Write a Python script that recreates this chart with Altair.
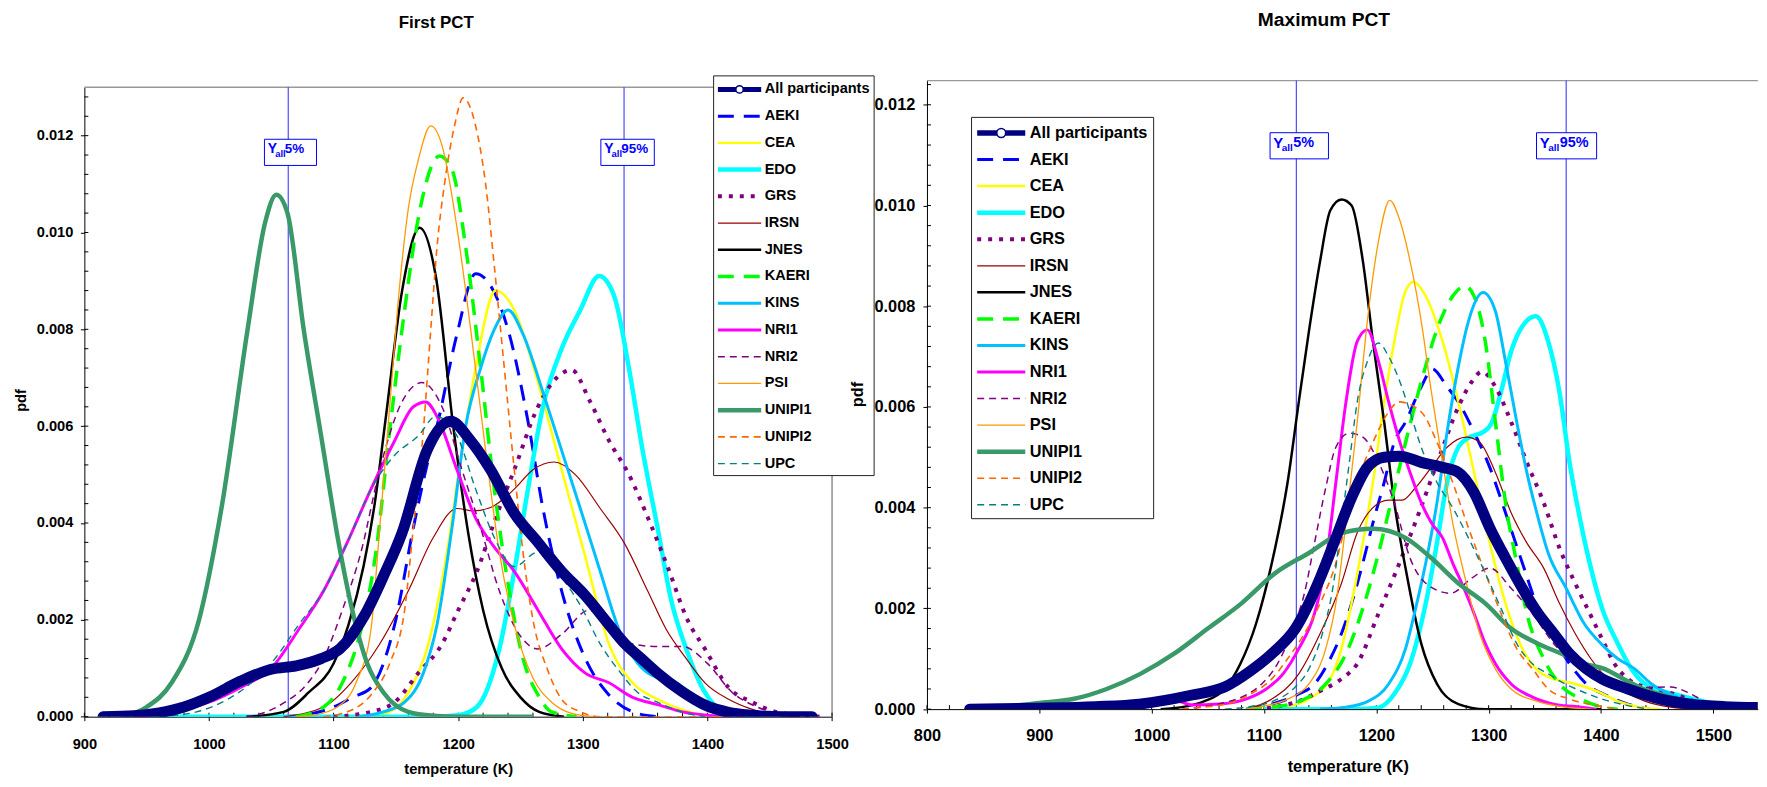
import altair as alt
import pandas as pd

FONT = "Liberation Sans"

NAMES = ["All participants", "AEKI", "CEA", "EDO", "GRS", "IRSN", "JNES", "KAERI",
         "KINS", "NRI1", "NRI2", "PSI", "UNIPI1", "UNIPI2", "UPC"]
COLORS = ["#000080", "#0000FF", "#FFFF00", "#00FFFF", "#800080", "#990000", "#000000", "#00FF00",
          "#00C0FF", "#FF00FF", "#800080", "#FF9900", "#3A9968", "#FF6600", "#008080"]
WIDTHS = [11, 3, 2.5, 4.5, 4, 1.2, 2.5, 3.5, 3, 3, 1.5, 1.3, 4.5, 1.6, 1.4]
DASHES = [None, [16, 10], None, None, [4, 7], None, None, [16, 10], None, None,
          [7, 5], None, None, [7, 5], [7, 5]]

# ---------------- First PCT (temperature K, pdf) ----------------
F_ALL = [(915, 0), (940, 0.00002), (960, 0.00008), (980, 0.0002), (1000, 0.0004), (1025, 0.00073),
         (1050, 0.00098), (1070, 0.00105), (1090, 0.0012), (1105, 0.0014), (1125, 0.0021), (1140, 0.0029),
         (1155, 0.0038), (1175, 0.0055), (1194, 0.0061), (1210, 0.0057), (1226, 0.0051), (1245, 0.0042),
         (1264, 0.0036), (1283, 0.003), (1302, 0.0025), (1321, 0.0019), (1334, 0.0015), (1347, 0.0012),
         (1360, 0.0009), (1379, 0.00053), (1398, 0.00024), (1417, 0.00009), (1436, 0.00003), (1460, 0),
         (1484, 0)]
F_AEKI = [(1060, 0), (1080, 0.00005), (1100, 0.0002), (1115, 0.0004), (1130, 0.0006), (1149, 0.0019),
          (1164, 0.0039), (1175, 0.0052), (1183, 0.006), (1199, 0.0079), (1214, 0.00915), (1226, 0.0089),
          (1241, 0.0079), (1256, 0.0061), (1268, 0.0043), (1283, 0.0026), (1302, 0.0012), (1321, 0.00045),
          (1340, 0.0001), (1360, 0)]
F_CEA = [(1100, 0), (1130, 0.00003), (1145, 0.0001), (1160, 0.0005), (1176, 0.0015), (1191, 0.0034),
         (1203, 0.0055), (1214, 0.0072), (1230, 0.0088), (1245, 0.0084), (1264, 0.0069), (1283, 0.0051),
         (1302, 0.0033), (1321, 0.0015), (1340, 0.0007), (1360, 0.00036), (1379, 0.00015), (1398, 0.00003),
         (1420, 0)]
F_EDO = [(950, 0), (1180, 0), (1200, 0.00003), (1215, 0.0002), (1233, 0.0014), (1245, 0.003),
         (1256, 0.0047), (1268, 0.0064), (1283, 0.0076), (1298, 0.0084), (1313, 0.0091), (1325, 0.0087),
         (1337, 0.0072), (1348, 0.0055), (1360, 0.0039), (1371, 0.0024), (1383, 0.0014), (1398, 0.0005),
         (1413, 0.0001), (1430, 0)]
F_GRS = [(1100, 0), (1130, 0.0001), (1149, 0.0003), (1168, 0.0009), (1187, 0.0015), (1200, 0.0022),
         (1215, 0.003), (1230, 0.0041), (1245, 0.0051), (1264, 0.0064), (1279, 0.007), (1291, 0.00716),
         (1306, 0.0065), (1321, 0.0057), (1337, 0.005), (1354, 0.004), (1368, 0.0031), (1384, 0.002),
         (1398, 0.0014), (1417, 0.0006), (1436, 0.0003), (1455, 0.0001), (1475, 0.00003), (1490, 0)]
F_IRSN = [(1060, 0), (1092, 0.0002), (1114, 0.0007), (1137, 0.0015), (1160, 0.0026), (1180, 0.0037),
          (1199, 0.0043), (1212, 0.00425), (1226, 0.00432), (1245, 0.0047), (1260, 0.0051), (1277, 0.00526),
          (1294, 0.005), (1314, 0.0043), (1333, 0.0036), (1352, 0.0026), (1367, 0.0018), (1383, 0.0012),
          (1398, 0.0007), (1417, 0.00036), (1436, 0.00015), (1455, 0.00003), (1470, 0)]
F_JNES = [(1030, 0), (1060, 0.0001), (1080, 0.0005), (1100, 0.0011), (1112, 0.0019), (1124, 0.0031),
          (1133, 0.0044), (1142, 0.0062), (1155, 0.0088), (1169, 0.0101), (1182, 0.0091), (1196, 0.006),
          (1208, 0.0038), (1220, 0.0022), (1235, 0.001), (1250, 0.0004), (1265, 0.0001), (1285, 0)]
F_KAERI = [(1070, 0), (1092, 0.0002), (1107, 0.0007), (1122, 0.0018), (1134, 0.0034), (1145, 0.0059),
           (1157, 0.0084), (1168, 0.0103), (1185, 0.01158), (1195, 0.0113), (1206, 0.0097), (1218, 0.0072),
           (1229, 0.0047), (1241, 0.0026), (1252, 0.0012), (1264, 0.00045), (1275, 0.0001), (1295, 0)]
F_KINS = [(1120, 0), (1140, 0.0001), (1157, 0.0003), (1172, 0.0009), (1183, 0.0019), (1195, 0.0039),
          (1206, 0.006), (1218, 0.0072), (1229, 0.008), (1240, 0.0084), (1252, 0.0079), (1268, 0.0067),
          (1283, 0.0055), (1298, 0.0043), (1314, 0.003), (1329, 0.0018), (1344, 0.0011), (1360, 0.0008),
          (1375, 0.0007), (1390, 0.0004), (1405, 0.00015), (1425, 0.00003), (1440, 0)]
F_NRI1 = [(940, 0), (970, 0.0001), (1000, 0.0003), (1025, 0.0006), (1050, 0.001), (1072, 0.0018),
          (1092, 0.0026), (1111, 0.0036), (1130, 0.0047), (1149, 0.0057), (1164, 0.0064), (1174, 0.0065),
          (1183, 0.0062), (1199, 0.0051), (1214, 0.0041), (1229, 0.0035), (1245, 0.003), (1264, 0.0022),
          (1283, 0.0014), (1302, 0.0009), (1321, 0.0007), (1340, 0.0004), (1360, 0.00025), (1380, 0.0001),
          (1400, 0.00003), (1420, 0)]
F_NRI2 = [(1030, 0), (1046, 0.0001), (1061, 0.0003), (1076, 0.0006), (1092, 0.0012), (1107, 0.0022),
          (1122, 0.0034), (1137, 0.0051), (1153, 0.0064), (1171, 0.0069), (1187, 0.0064), (1203, 0.0051),
          (1218, 0.0039), (1233, 0.0026), (1249, 0.0017), (1264, 0.0014), (1283, 0.0017), (1305, 0.0022),
          (1322, 0.0019), (1340, 0.0015), (1360, 0.00145), (1380, 0.00145), (1400, 0.0011), (1420, 0.0005),
          (1440, 0.0002), (1460, 0.00005), (1480, 0)]
F_PSI = [(1070, 0), (1084, 0.00003), (1103, 0.0002), (1118, 0.0007), (1130, 0.0018), (1137, 0.0039),
         (1145, 0.0064), (1153, 0.0089), (1160, 0.0105), (1168, 0.0115), (1178, 0.0122), (1187, 0.0118),
         (1199, 0.0101), (1210, 0.008), (1222, 0.0055), (1233, 0.0034), (1245, 0.0019), (1260, 0.0008),
         (1275, 0.0003), (1291, 0.00007), (1310, 0)]
F_UNIPI1 = [(930, 0), (950, 0.0002), (970, 0.0007), (992, 0.002), (1010, 0.0043), (1031, 0.008),
            (1045, 0.0102), (1054, 0.01078), (1063, 0.0104), (1076, 0.008), (1090, 0.0058), (1104, 0.0036),
            (1115, 0.0022), (1127, 0.0011), (1140, 0.0005), (1160, 0.0001), (1180, 0.00002), (1200, 0),
            (1260, 0)]
F_UNIPI2 = [(1092, 0), (1111, 0.0001), (1130, 0.00045), (1145, 0.0011), (1157, 0.0022), (1164, 0.0039),
            (1172, 0.0059), (1178, 0.008), (1183, 0.0097), (1189, 0.011), (1197, 0.0122), (1204, 0.01278),
            (1214, 0.0122), (1222, 0.011), (1229, 0.0093), (1237, 0.0072), (1245, 0.0051), (1252, 0.0034),
            (1260, 0.002), (1272, 0.00095), (1283, 0.00036), (1298, 0.0001), (1314, 0), (1430, 0)]
F_UPC = [(960, 0), (990, 0.0001), (1015, 0.00036), (1034, 0.0007), (1053, 0.0012), (1072, 0.0019),
         (1092, 0.0026), (1111, 0.0036), (1130, 0.0047), (1149, 0.0054), (1168, 0.0058), (1182, 0.0062),
         (1199, 0.0058), (1214, 0.0047), (1229, 0.0037), (1245, 0.0031), (1264, 0.0034), (1279, 0.003),
         (1298, 0.0023), (1314, 0.0015), (1329, 0.00095), (1344, 0.0005), (1360, 0.0003), (1379, 0.0001),
         (1398, 0)]

# ---------------- Maximum PCT (temperature K, pdf) ----------------
M_ALL = [(838, 0), (900, 0.00002), (950, 0.00005), (989, 0.0001), (1036, 0.00028), (1065, 0.00044),
         (1088, 0.00076), (1107, 0.0011), (1128, 0.0016), (1150, 0.0026), (1164, 0.0034), (1178, 0.0042),
         (1192, 0.0048), (1207, 0.005), (1221, 0.00502), (1240, 0.0049), (1259, 0.0048), (1273, 0.0047),
         (1287, 0.0043), (1301, 0.0036), (1315, 0.003), (1330, 0.0024), (1344, 0.0019), (1358, 0.0015),
         (1372, 0.0011), (1387, 0.0008), (1401, 0.0006), (1424, 0.0004), (1453, 0.0002), (1480, 0.0001),
         (1510, 0.00005), (1542, 0.00003)]
M_AEKI = [(1084, 0), (1107, 0.0001), (1131, 0.0003), (1145, 0.0005), (1159, 0.001), (1169, 0.0015),
          (1178, 0.0021), (1188, 0.0029), (1197, 0.0037), (1207, 0.0045), (1216, 0.0053), (1226, 0.0057),
          (1240, 0.0064), (1250, 0.00675), (1263, 0.0064), (1273, 0.0061), (1287, 0.0055), (1301, 0.0048),
          (1315, 0.0039), (1330, 0.0029), (1344, 0.002), (1358, 0.0014), (1372, 0.0009), (1387, 0.0005),
          (1405, 0.00027), (1424, 0.0001), (1443, 0)]
M_CEA = [(1102, 0), (1121, 0.00005), (1140, 0.0002), (1159, 0.0006), (1169, 0.0012), (1178, 0.0021),
         (1188, 0.0033), (1197, 0.0045), (1207, 0.0061), (1216, 0.0073), (1226, 0.0083), (1233, 0.00848),
         (1244, 0.0082), (1259, 0.0073), (1273, 0.0061), (1287, 0.0047), (1301, 0.0033), (1315, 0.0021),
         (1330, 0.0012), (1344, 0.00076), (1358, 0.0006), (1377, 0.0005), (1396, 0.00036), (1415, 0.00016),
         (1434, 0.00004), (1453, 0)]
M_EDO = [(1100, 0), (1180, 0), (1202, 0.00003), (1216, 0.0003), (1230, 0.0009), (1244, 0.0021),
         (1254, 0.0033), (1263, 0.0045), (1273, 0.0052), (1283, 0.0054), (1295, 0.0055), (1303, 0.0057),
         (1311, 0.0063), (1320, 0.0071), (1330, 0.0076), (1342, 0.0078), (1353, 0.0073), (1363, 0.0063),
         (1372, 0.0049), (1382, 0.0037), (1391, 0.0028), (1401, 0.002), (1415, 0.0013), (1427, 0.0008),
         (1441, 0.00047), (1468, 0.00028), (1498, 0.00012), (1527, 0.00002)]
M_GRS = [(1093, 0), (1112, 0.00005), (1131, 0.00016), (1150, 0.00036), (1169, 0.0006), (1183, 0.0009),
         (1202, 0.0019), (1217, 0.0027), (1238, 0.0039), (1256, 0.005), (1273, 0.006), (1285, 0.0065),
         (1294, 0.0067), (1306, 0.0064), (1320, 0.0057), (1334, 0.0049), (1349, 0.0041), (1363, 0.0032),
         (1377, 0.0025), (1390, 0.0019), (1403, 0.0013), (1412, 0.0009), (1424, 0.0006), (1445, 0.0004),
         (1465, 0.0003), (1490, 0.0001), (1510, 0)]
M_IRSN = [(1084, 0), (1107, 0.0002), (1131, 0.0007), (1150, 0.0015), (1169, 0.0025), (1183, 0.0035),
          (1197, 0.004), (1211, 0.00415), (1223, 0.00415), (1235, 0.0044), (1249, 0.0048), (1263, 0.0052),
          (1280, 0.0054), (1292, 0.0053), (1306, 0.0047), (1320, 0.0039), (1334, 0.0033), (1349, 0.0028),
          (1363, 0.0021), (1377, 0.0015), (1391, 0.001), (1406, 0.0006), (1420, 0.00036), (1439, 0.00016),
          (1462, 0.00004), (1481, 0)]
M_JNES = [(1008, 0), (1027, 0.00004), (1046, 0.00015), (1065, 0.0004), (1079, 0.0009), (1093, 0.0017),
          (1107, 0.0029), (1121, 0.0045), (1131, 0.0061), (1140, 0.0075), (1150, 0.0089), (1159, 0.0099),
          (1169, 0.01012), (1178, 0.01), (1188, 0.0089), (1197, 0.0073), (1207, 0.0057), (1216, 0.0041),
          (1226, 0.0028), (1240, 0.0013), (1254, 0.0005), (1273, 0.0001), (1297, 0), (1400, 0)]
M_KAERI = [(1084, 0), (1107, 0.00004), (1131, 0.00015), (1155, 0.0005), (1173, 0.0011), (1188, 0.002),
           (1202, 0.0031), (1213, 0.0041), (1225, 0.0052), (1240, 0.0065), (1255, 0.0076), (1268, 0.0082),
           (1279, 0.0084), (1287, 0.0082), (1297, 0.0073), (1306, 0.0057), (1315, 0.0041), (1325, 0.0029),
           (1334, 0.0019), (1349, 0.001), (1363, 0.0005), (1382, 0.0002), (1401, 0.00004), (1415, 0)]
M_KINS = [(1150, 0), (1173, 0.00004), (1192, 0.00015), (1211, 0.0005), (1226, 0.0012), (1235, 0.002),
          (1244, 0.0029), (1254, 0.0041), (1263, 0.0055), (1273, 0.0068), (1282, 0.0077), (1295, 0.00827),
          (1306, 0.0079), (1315, 0.0069), (1325, 0.0057), (1334, 0.0047), (1344, 0.0038), (1353, 0.0031),
          (1369, 0.0024), (1385, 0.0017), (1400, 0.0013), (1415, 0.001), (1430, 0.0008), (1445, 0.0005),
          (1462, 0.0003), (1481, 0.00013), (1500, 0.00004), (1520, 0)]
M_NRI1 = [(965, 0), (979, 0.00004), (998, 0.00015), (1010, 0.0002), (1025, 0.00015), (1036, 0.00008),
          (1060, 0.0001), (1084, 0.0002), (1102, 0.0004), (1117, 0.0007), (1131, 0.0012), (1145, 0.0019),
          (1155, 0.0029), (1164, 0.0045), (1173, 0.0061), (1183, 0.0073), (1192, 0.00753), (1202, 0.0069),
          (1211, 0.0061), (1221, 0.0053), (1230, 0.0047), (1240, 0.0041), (1249, 0.0037), (1259, 0.0034),
          (1268, 0.0029), (1278, 0.0024), (1287, 0.0019), (1297, 0.0013), (1306, 0.0009), (1320, 0.0005),
          (1339, 0.00024), (1358, 0.0001), (1377, 0.00005), (1396, 0)]
M_NRI2 = [(1027, 0), (1046, 0.00005), (1065, 0.00013), (1084, 0.00028), (1098, 0.0005), (1112, 0.0009),
          (1126, 0.0016), (1136, 0.0023), (1145, 0.0033), (1155, 0.0044), (1164, 0.0052), (1176, 0.00548),
          (1188, 0.0054), (1202, 0.0049), (1216, 0.0041), (1230, 0.003), (1244, 0.0025), (1266, 0.0023),
          (1285, 0.0026), (1301, 0.0028), (1320, 0.0024), (1339, 0.0019), (1358, 0.0013), (1377, 0.0009),
          (1396, 0.0006), (1415, 0.0005), (1440, 0.00043), (1462, 0.00044), (1480, 0.0003), (1495, 0.00012),
          (1510, 0)]
M_PSI = [(1084, 0), (1102, 0.00007), (1121, 0.0002), (1140, 0.0005), (1155, 0.0012), (1164, 0.0021),
         (1173, 0.0037), (1183, 0.0057), (1192, 0.0077), (1202, 0.0093), (1212, 0.0101), (1221, 0.0097),
         (1230, 0.0089), (1240, 0.0077), (1249, 0.0063), (1259, 0.0049), (1268, 0.0037), (1278, 0.0027),
         (1292, 0.0015), (1306, 0.0008), (1320, 0.0004), (1344, 0.00015), (1368, 0.00004), (1391, 0)]
M_UNIPI1 = [(840, 0), (870, 0.00005), (900, 0.00012), (930, 0.0002), (960, 0.0004), (990, 0.0007),
            (1020, 0.0011), (1050, 0.0016), (1080, 0.0021), (1110, 0.0027), (1140, 0.0031), (1170, 0.0035),
            (1197, 0.00358), (1226, 0.0034), (1249, 0.003), (1273, 0.0025), (1297, 0.0021), (1320, 0.0016),
            (1344, 0.0013), (1365, 0.0011), (1385, 0.0009), (1403, 0.0008), (1420, 0.0006), (1438, 0.0004),
            (1460, 0.00025), (1480, 0.00012), (1500, 0.00005), (1520, 0)]
M_UNIPI2 = [(1027, 0), (1046, 0.00004), (1070, 0.00012), (1088, 0.0003), (1107, 0.0006), (1121, 0.001),
            (1136, 0.0015), (1150, 0.0021), (1164, 0.0029), (1173, 0.0037), (1183, 0.0045), (1197, 0.0053),
            (1211, 0.0059), (1220, 0.0061), (1240, 0.0059), (1254, 0.0053), (1268, 0.0045), (1282, 0.0036),
            (1297, 0.0027), (1311, 0.0019), (1325, 0.0012), (1339, 0.0008), (1353, 0.0004), (1372, 0.0002),
            (1396, 0.00007), (1415, 0)]
M_UPC = [(1065, 0), (1084, 0.00004), (1107, 0.00015), (1126, 0.0004), (1140, 0.0008), (1152, 0.0015),
         (1162, 0.0025), (1169, 0.0037), (1176, 0.0049), (1183, 0.0061), (1192, 0.0069), (1202, 0.00727),
         (1211, 0.007), (1221, 0.0065), (1230, 0.0059), (1240, 0.0052), (1254, 0.0045), (1268, 0.004),
         (1282, 0.0034), (1297, 0.0027), (1311, 0.002), (1325, 0.0013), (1339, 0.0009), (1353, 0.0007),
         (1368, 0.0005), (1382, 0.00036), (1401, 0.0002), (1424, 0.00007), (1443, 0)]

F_SERIES = [F_ALL, F_AEKI, F_CEA, F_EDO, F_GRS, F_IRSN, F_JNES, F_KAERI, F_KINS, F_NRI1, F_NRI2,
            F_PSI, F_UNIPI1, F_UNIPI2, F_UPC]
M_SERIES = [M_ALL, M_AEKI, M_CEA, M_EDO, M_GRS, M_IRSN, M_JNES, M_KAERI, M_KINS, M_NRI1, M_NRI2,
            M_PSI, M_UNIPI1, M_UNIPI2, M_UPC]

# 5% / 95% quantiles of all participants
YALL_F = [1063.6, 1333.1]
YALL_M = [1128.8, 1369.0]
YALL_LABELS = ["5%", "95%"]

X_TICKS_F = [900, 1000, 1100, 1200, 1300, 1400, 1500]
X_TICKS_M = [800, 900, 1000, 1100, 1200, 1300, 1400, 1500]
Y_TICKS = [0.0, 0.002, 0.004, 0.006, 0.008, 0.010, 0.012]
MINOR_Y = [round(k * 0.0004, 4) for k in range(0, 33)]
MINOR_X_F = list(range(900, 1501, 20))
MINOR_X_M = list(range(800, 1540, 20))

DUMMY = pd.DataFrame({"d": [0]})


def fixed():
    return alt.Chart(DUMMY)


def curve_layer(pts, i, X, Y):
    df = pd.DataFrame(pts, columns=["T", "pdf"])
    kw = dict(color=COLORS[i], strokeWidth=WIDTHS[i], interpolate="monotone", clip=True)
    if DASHES[i] is not None:
        kw["strokeDash"] = DASHES[i]
    if i == 0:
        kw.update(strokeCap="round", strokeJoin="round")
    return alt.Chart(df).mark_line(**kw).encode(x=X("T"), y=Y("pdf"))


def legend_layers(box, y0, step, x1, x2, xt, fsz, navy_w, msize):
    out = [fixed().mark_rect(fill="white", stroke="#222222", strokeWidth=1).encode(
        x=alt.value(box[0]), x2=alt.value(box[1]), y=alt.value(box[2]), y2=alt.value(box[3]))]
    for i, name in enumerate(NAMES):
        yy = y0 + i * step
        kw = dict(color=COLORS[i], strokeWidth=(navy_w if i == 0 else WIDTHS[i]))
        if DASHES[i] is not None:
            kw["strokeDash"] = DASHES[i]
        out.append(fixed().mark_rule(**kw).encode(x=alt.value(x1), x2=alt.value(x2), y=alt.value(yy)))
        out.append(fixed().mark_text(align="left", baseline="middle", font=FONT, fontWeight="bold",
                                     fontSize=fsz, color="black").encode(
            x=alt.value(xt), y=alt.value(yy), text=alt.value(name)))
    out.append(fixed().mark_point(shape="circle", filled=True, fill="white", stroke="#000080",
                                  strokeWidth=1.5, size=msize, opacity=1).encode(
        x=alt.value((x1 + x2) / 2), y=alt.value(y0)))
    return out


def yall_layers(vals, offs, X, box_y, ty, sy, sizes, toffs):
    out = []
    for v, lab, (lo, hi) in zip(vals, YALL_LABELS, offs):
        d = pd.DataFrame({"v": [v]})
        out.append(alt.Chart(d).mark_rect(fill="white", stroke="#0000FF", strokeWidth=1,
                                          xOffset=lo, x2Offset=hi).encode(
            x=X("v"), x2=alt.X2("v"), y=alt.value(box_y[0]), y2=alt.value(box_y[1])))
        parts = [("Y", lo + toffs[0], ty, sizes[0]), ("all", lo + toffs[1], sy, sizes[1]),
                 (lab, lo + toffs[2], ty, sizes[2])]
        for txt, dx, yy, fsz in parts:
            out.append(alt.Chart(d).mark_text(align="left", baseline="middle", dx=dx, font=FONT,
                                              fontWeight="bold", fontSize=fsz, color="#0000FF").encode(
                x=X("v"), y=alt.value(yy), text=alt.value(txt)))
    return out


def build_panel(c):
    W, H, top = c["W"], c["H"], c["top"]
    xs = alt.Scale(domain=c["xdom"], nice=False, zero=False)
    ys = alt.Scale(domain=c["ydom"], range=c["yrange"], nice=False, zero=False)
    fs = c["fs"]
    xaxis = alt.Axis(values=c["xticks"], format="d", grid=False, domainColor="black", domainWidth=1,
                     tickColor="black", tickSize=4, tickWidth=1, labelFont=FONT, labelFontSize=fs,
                     labelFontWeight="bold", labelColor="black", labelPadding=c["xlp"], labelFlush=False,
                     labelOverlap=False, title="temperature (K)", titleFont=FONT, titleFontSize=fs,
                     titleFontWeight="bold", titleColor="black", titleX=c["xtx"], titleY=c["xty"],
                     titleBaseline="middle", titleAlign="center")
    yaxis = alt.Axis(values=Y_TICKS, format=".3f", grid=False, domainColor="black", domainWidth=1,
                     tickColor="black", tickSize=4, tickWidth=1, labelFont=FONT, labelFontSize=fs,
                     labelFontWeight="bold", labelColor="black", labelPadding=c["ylp"], labelFlush=False,
                     labelOverlap=False, title="pdf", titleFont=FONT, titleFontSize=fs,
                     titleFontWeight="bold", titleColor="black", titleX=c["ytx"], titleY=c["yty"],
                     titleBaseline="middle", titleAlign="center", titleAngle=270)

    def X(f):
        return alt.X(f + ":Q", scale=xs, axis=xaxis)

    def Y(f):
        return alt.Y(f + ":Q", scale=ys, axis=yaxis)

    layers = []
    # frame
    layers.append(fixed().mark_rule(color="#999999", strokeWidth=1.3).encode(
        x=alt.value(0), x2=alt.value(W), y=alt.value(top)))
    if c["right_border"]:
        layers.append(fixed().mark_rule(color="#555555", strokeWidth=1).encode(
            x=alt.value(W), y=alt.value(top), y2=alt.value(H)))
    # minor ticks (inside)
    my = pd.DataFrame({"v": [v for v in MINOR_Y if v <= c["ydom"][1]]})
    layers.append(alt.Chart(my).mark_rule(color="black", strokeWidth=1).encode(
        y=Y("v"), x=alt.value(0), x2=alt.value(4)))
    mx = pd.DataFrame({"v": c["minor_x"]})
    layers.append(alt.Chart(mx).mark_rule(color="black", strokeWidth=1).encode(
        x=X("v"), y=alt.value(H), y2=alt.value(H - 4)))
    # quantile lines
    yl = pd.DataFrame({"v": c["yall"]})
    layers.append(alt.Chart(yl).mark_rule(color="#3B3BFF", strokeWidth=1.1).encode(
        x=X("v"), y=alt.value(top), y2=alt.value(H)))
    # curves (all participants on top)
    for i in range(1, len(NAMES)):
        layers.append(curve_layer(c["series"][i], i, X, Y))
    layers.append(curve_layer(c["series"][0], 0, X, Y))
    # quantile labels
    layers += yall_layers(c["yall"], c["yoffs"], X, c["ybox"], c["yty_txt"], c["ysub"], c["ysizes"],
                          c["ytoffs"])
    # legend
    layers += legend_layers(**c["legend"])
    # title
    layers.append(fixed().mark_text(align="center", baseline="middle", font=FONT, fontWeight="bold",
                                    fontSize=c["tfs"], color="black").encode(
        x=alt.value(c["title_xy"][0]), y=alt.value(c["title_xy"][1]), text=alt.value(c["title"])))
    return alt.layer(*layers).properties(width=W, height=H)


W_L, H_L, TOP_L = 751.4, 639.3, 6.7
W_R, H_R = 835.0, 631.7

left = build_panel(dict(
    W=W_L, H=H_L, top=TOP_L, xdom=[900, 1500], ydom=[0, 0.013], yrange=[H_L, TOP_L], fs=14.7,
    xticks=X_TICKS_F, xlp=16, xtx=W_L / 2, xty=53, ylp=7.6, ytx=-63.3, yty=321,
    right_border=True, minor_x=MINOR_X_F, yall=YALL_F, series=F_SERIES,
    yoffs=[(-23.9, 28.4), (-23.3, 30.4)], ybox=(59, 85.3), yty_txt=69.3, ysub=74,
    ysizes=(14, 9.5, 13.5), ytoffs=(3.4, 10.8, 20.5),
    legend=dict(box=(632.4, 793.7, -4.7, 397), y0=8.9, step=26.86, x1=636.7, x2=680.2, xt=683.7,
                fsz=14.6, navy_w=5, msize=55),
    tfs=17, title_xy=(353.7, -58), title="First PCT"))

right = build_panel(dict(
    W=W_R, H=H_R, top=0, xdom=[800, 800 + W_R / 1.129], ydom=[0, 0.01248], yrange=[H_R, 0], fs=16.4,
    xticks=X_TICKS_M, xlp=15, xtx=423, xty=57.3, ylp=8.2, ytx=-69.5, yty=315,
    right_border=False, minor_x=MINOR_X_M, yall=YALL_M, series=M_SERIES,
    yoffs=[(-26.4, 32.3), (-29.8, 30.6)], ybox=(52.4, 78.7), yty_txt=62.3, ysub=67.4,
    ysizes=(15, 10, 14.5), ytoffs=(3.2, 11.8, 23.3),
    legend=dict(box=(44.8, 227.8, 37, 440.3), y0=52.7, step=26.69, x1=50.5, x2=98.8, xt=103.2,
                fsz=16.4, navy_w=5.5, msize=80),
    tfs=19.3, title_xy=(399, -61.3), title="Maximum PCT"))

chart = alt.hconcat(left, right, spacing=94.8, bounds="flush").properties(
    padding={"left": 4.75, "top": 0, "right": 0, "bottom": 0}
).configure_view(stroke="transparent")

chart.save("out.html", embed_options={"renderer": "svg", "actions": False})
